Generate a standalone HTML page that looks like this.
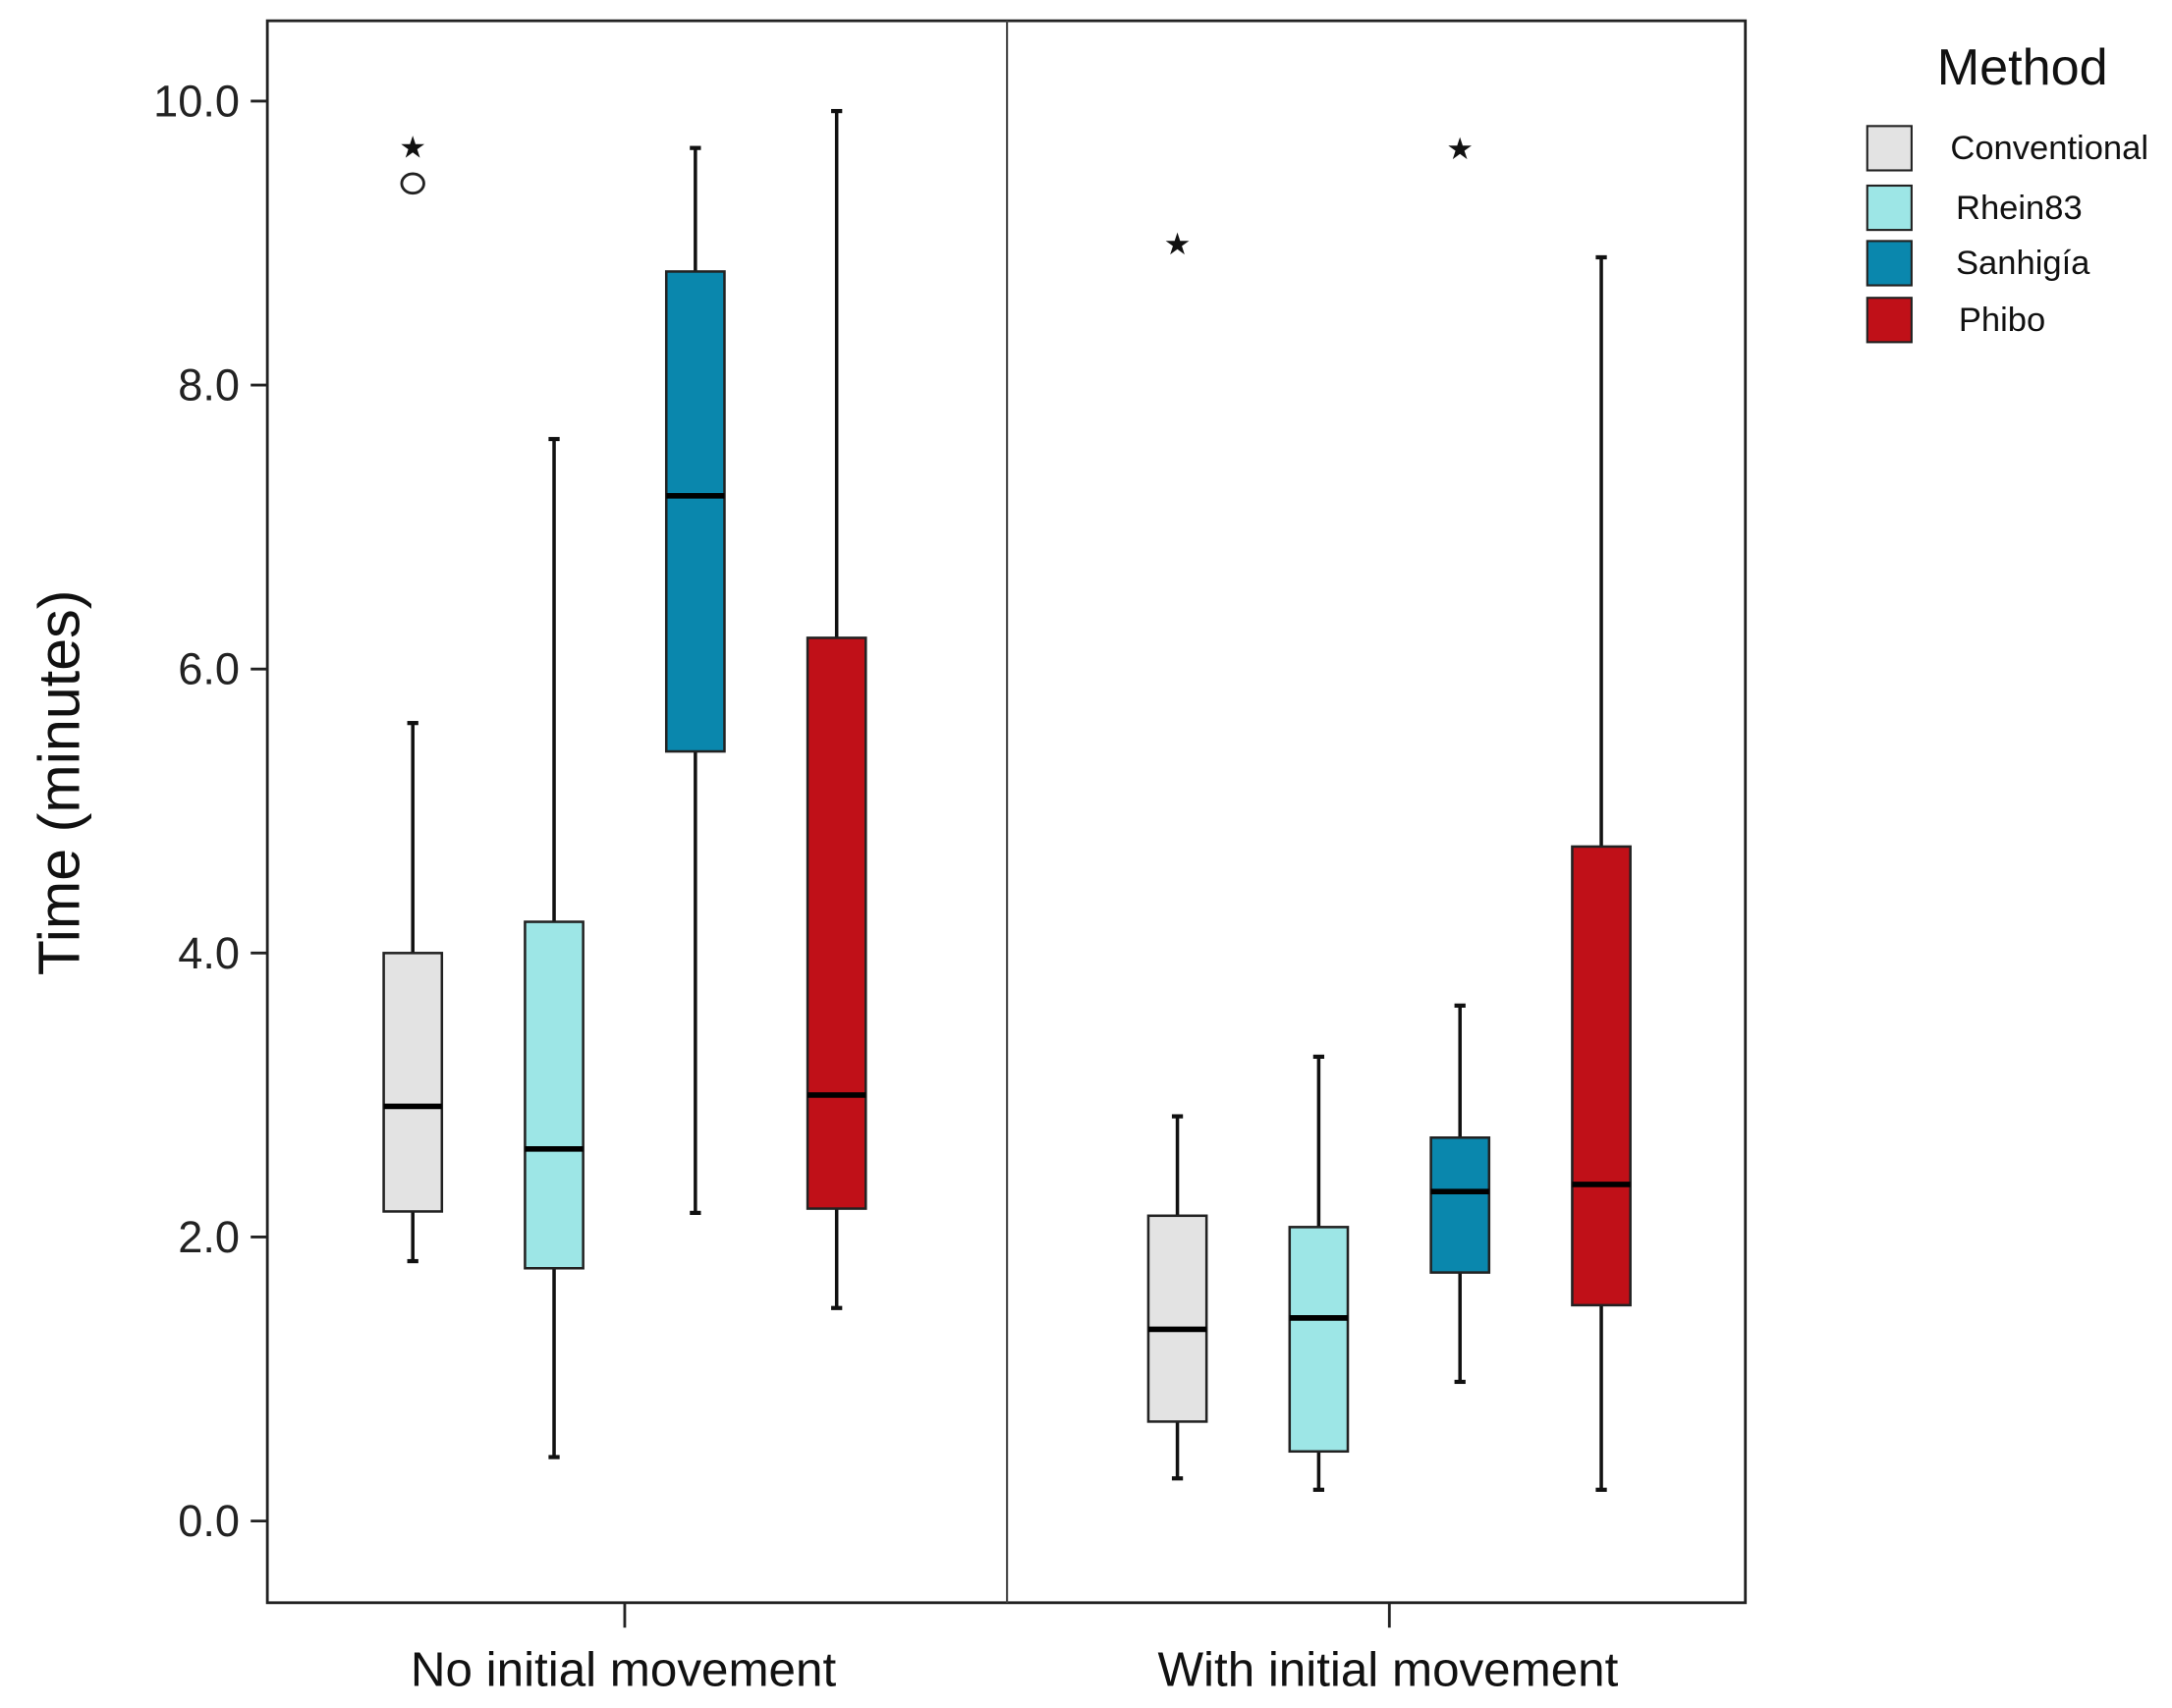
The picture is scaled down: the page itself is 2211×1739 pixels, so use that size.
<!DOCTYPE html>
<html><head><meta charset="utf-8"><style>
html,body{margin:0;padding:0;background:#fff;}
svg{display:block;font-family:"Liberation Sans",sans-serif;}
</style></head><body>
<svg id="chart" width="2211" height="1739" viewBox="0 0 1568 1233" preserveAspectRatio="none" xmlns="http://www.w3.org/2000/svg">
<rect x="0" y="0" width="1568" height="1233" fill="#fff"/>
<rect x="193" y="15" width="1067" height="1142" fill="none" stroke="#222" stroke-width="2"/>
<line x1="727" y1="15" x2="727" y2="1157" stroke="#444" stroke-width="1.5"/>
<g id="yaxis"></g>
<text transform="translate(57,565) rotate(-90)" text-anchor="middle" font-size="42" fill="#111">Time (minutes)</text>
<g id="xaxis"></g>
<g id="boxes"></g>
<g id="legend">
<text x="1460" y="61" text-anchor="middle" font-size="37" fill="#111">Method</text>
</g>
</svg>
<script>
const groups = ["No initial movement", "With initial movement"];
const methods = ["Conventional", "Rhein83", "Sanhigía", "Phibo"];
const colors = ["#e3e3e3", "#9de6e6", "#0a87ad", "#c01018"];
const yTicks = [0, 2, 4, 6, 8, 10];
const whiskerLow = [[1.83, 0.45, 2.17, 1.5], [0.3, 0.22, 0.98, 0.22]];
const q1 = [[2.18, 1.78, 5.42, 2.2], [0.7, 0.49, 1.75, 1.52]];
const median = [[2.92, 2.62, 7.22, 3.0], [1.35, 1.43, 2.32, 2.37]];
const q3 = [[4.0, 4.22, 8.8, 6.22], [2.15, 2.07, 2.7, 4.75]];
const whiskerHigh = [[5.62, 7.62, 9.67, 9.93], [2.85, 3.27, 3.63, 8.9]];
const outlierCircles = [[[9.42], [], [], []], [[], [], [], []]];
const outlierStars = [[[9.68], [], [], []], [[9.0], [], [9.67], []]];

const NS = "http://www.w3.org/2000/svg";
function y(v){ return 1098 - v * 102.5; }
function groupX(g){ return g === 0 ? 451 : 1003; }
function boxX(g, m){ return groupX(g) + (m - 1.5) * 102; }
function mk(tag, attrs, parent){
  const e = document.createElementNS(NS, tag);
  for (const k in attrs) e.setAttribute(k, attrs[k]);
  parent.appendChild(e); return e;
}
const yaxis = document.getElementById("yaxis");
yTicks.forEach(t => {
  const l = mk("line", {x1:181, x2:193, y1:y(t), y2:y(t), stroke:"#222", "stroke-width":2}, yaxis);
  
  
  const tx = mk("text", {x:173, y:y(t)+11, "text-anchor":"end", "font-size":32, fill:"#222"}, yaxis);
  tx.textContent = t.toFixed(1);
  
  
});
const xaxis = document.getElementById("xaxis");
groups.forEach((gname, g) => {
  const l = mk("line", {x1:groupX(g), x2:groupX(g), y1:1157, y2:1175, stroke:"#222", "stroke-width":2}, xaxis);
  
  
  const tx = mk("text", {x:groupX(g)-1, y:1217, "text-anchor":"middle", "font-size":35, fill:"#111"}, xaxis);
  tx.textContent = gname;
  
  
});
const boxes = document.getElementById("boxes");
const hw = 21;
groups.forEach((gname, g) => {
  methods.forEach((mname, m) => {
    const cx = boxX(g, m);
    const grp = mk("g", {}, boxes);
    
    
    mk("line", {x1:cx, x2:cx, y1:y(whiskerHigh[g][m]), y2:y(q3[g][m]), stroke:"#111", "stroke-width":2.5}, grp);
    mk("line", {x1:cx, x2:cx, y1:y(q1[g][m]), y2:y(whiskerLow[g][m]), stroke:"#111", "stroke-width":2.5}, grp);
    mk("line", {x1:cx-4, x2:cx+4, y1:y(whiskerHigh[g][m]), y2:y(whiskerHigh[g][m]), stroke:"#111", "stroke-width":3}, grp);
    mk("line", {x1:cx-4, x2:cx+4, y1:y(whiskerLow[g][m]), y2:y(whiskerLow[g][m]), stroke:"#111", "stroke-width":3}, grp);
    mk("rect", {x:cx-hw, y:y(q3[g][m]), width:hw*2, height:y(q1[g][m])-y(q3[g][m]), fill:colors[m], stroke:"#222", "stroke-width":1.8}, grp);
    mk("line", {x1:cx-hw, x2:cx+hw, y1:y(median[g][m]), y2:y(median[g][m]), stroke:"#000", "stroke-width":4}, grp);
    outlierCircles[g][m].forEach(v => {
      const c = mk("ellipse", {cx:cx, cy:y(v), rx:8, ry:7, fill:"none", stroke:"#222", "stroke-width":2}, grp);
      
      
    });
    outlierStars[g][m].forEach(v => {
      const s = mk("text", {x:cx, y:y(v)+8, "text-anchor":"middle", "font-size":22, fill:"#111"}, grp);
      s.textContent = "★";
      
      
    });
  });
});
const legend = document.getElementById("legend");
const legY = [107, 150, 190, 231];
const legTx = [1408, 1412, 1412, 1414];
methods.forEach((mname, m) => {
  const e = mk("g", {}, legend);
  
  
  mk("rect", {x:1348, y:legY[m]-16, width:32, height:32, fill:colors[m], stroke:"#222", "stroke-width":1.5}, e);
  const t = mk("text", {x:legTx[m], y:legY[m]+8, "font-size":24.5, fill:"#111"}, e);
  t.textContent = mname;
});
</script>
</body></html>
